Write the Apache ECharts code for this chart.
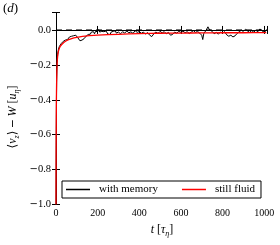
<!DOCTYPE html>
<html><head><meta charset="utf-8">
<script src="https://cdn.jsdelivr.net/npm/echarts@6/dist/echarts.min.js"></script>
<style>html,body{margin:0;padding:0;background:#fff}#c{width:280px;height:245px}</style>
</head><body><div id="c"></div>
<script>
// ---- data ----
var xTicks = [0, 200, 400, 600, 800, 1000];
var yTicks = [-1.0, -0.8, -0.6, -0.4, -0.2, 0.0];
var seriesNames = ['with memory', 'still fluid'];
var withMemory = [
 [0,-1.0],[1,-0.66],[2,-0.43],[3,-0.30],[5,-0.19],[8,-0.14],[12,-0.11],[16,-0.095],[20,-0.085],
 [25,-0.078],[30,-0.072],[35,-0.065],[40,-0.068],[45,-0.058],[50,-0.052],[55,-0.055],[60,-0.045],
 [65,-0.040],[70,-0.048],[75,-0.036],[80,-0.042],[85,-0.033],[90,-0.038],[95,-0.030],[100,-0.035],
 [105,-0.045],[110,-0.055],[115,-0.062],[120,-0.068],[125,-0.058],[130,-0.060],[135,-0.050],
 [140,-0.045],[145,-0.035],[150,-0.030],[155,-0.026],[160,-0.020],[165,-0.024],[170,-0.012],
 [175,-0.018],[180,-0.010],[185,-0.022],[190,-0.008],[195,-0.004],[200,-0.010],[205,0.002],
 [210,-0.012],[215,-0.020],[220,-0.008],[225,-0.016],[230,-0.010],[235,-0.019],[240,-0.006],
 [245,-0.014],[250,-0.024],[255,-0.017],[260,-0.026],[265,-0.012],[270,-0.020],[275,-0.008],
 [280,-0.016],[285,-0.005],[290,-0.018],[300,-0.012],[310,-0.022],[320,-0.010],[330,-0.018],
 [340,-0.006],[350,-0.016],[360,-0.011],[370,-0.020],[380,-0.004],[390,-0.014],[400,-0.009],
 [410,-0.019],[420,-0.012],[430,-0.024],[440,-0.015],[450,-0.030],[460,-0.038],[470,-0.022],
 [480,-0.012],[490,-0.020],[500,-0.008],[510,-0.017],[520,-0.010],[530,-0.022],[540,-0.014],
 [550,-0.030],[560,-0.026],[570,-0.012],[580,-0.018],[590,-0.008],[600,-0.014],[610,-0.006],
 [620,-0.016],[630,-0.010],[640,-0.020],[650,-0.012],[660,-0.004],[670,-0.014],[680,-0.008],
 [690,-0.018],[700,-0.030],[705,-0.055],[710,-0.020],[720,-0.004],[730,0.018],[735,0.005],
 [740,0.015],[750,-0.008],[760,-0.022],[770,-0.014],[780,-0.024],[790,-0.012],[800,-0.018],
 [810,-0.010],[820,-0.028],[830,-0.036],[840,-0.030],[850,-0.040],[860,-0.034],[870,-0.020],
 [880,-0.010],[890,-0.002],[900,-0.008],[910,0.004],[920,-0.006],[930,-0.014],[940,-0.004],
 [950,-0.012],[960,-0.002],[970,-0.010],[980,0.006],[990,-0.006],[1000,-0.012],[1010,-0.004]
];
var stillFluid = [
 [0,-1.0],[1,-0.6],[2,-0.4],[3,-0.3],[5,-0.2],[8,-0.15],[12,-0.12],[20,-0.095],[30,-0.08],
 [50,-0.062],[75,-0.05],[100,-0.043],[150,-0.034],[200,-0.03],[300,-0.025],[400,-0.021],
 [500,-0.019],[600,-0.018],[700,-0.017],[800,-0.016],[900,-0.016],[1010,-0.015]
];
var zeroLine = [[0,0],[1016,0]];
var xRange = [0, 1016];
var yRange = [-1.0, 0.1];

// ---- chart ----
var FONT = '"Liberation Serif", "DejaVu Serif", serif';
var chart = echarts.init(document.getElementById('c'), null, {renderer: 'canvas'});
function fmtY(v){
  var s = Math.abs(v).toFixed(1);
  return (v < -1e-9) ? '{m|\u2212}' + s : s;
}
var axLine = {show: true, lineStyle: {color: '#000', width: 1}};
var tick = {show: true, inside: true, length: 4, lineStyle: {color: '#000', width: 1}};
var grid = {left: 56, right: 12.5, top: 12.5, bottom: 40.5, containLabel: false};
var opt = {
  animation: false,
  backgroundColor: '#fff',
  grid: grid,
  xAxis: [
    {type: 'value', min: xRange[0], max: xRange[1], interval: 200, position: 'bottom',
     axisLine: axLine, axisTick: tick, splitLine: {show: false},
     axisLabel: {show: true, margin: 4, color: '#000', fontFamily: FONT, fontSize: 10,
       formatter: function(v){ return xTicks.indexOf(v) >= 0 ? String(v) : ''; }}},
    {type: 'value', min: xRange[0], max: xRange[1], interval: 200, position: 'top',
     axisLine: axLine, axisTick: tick, splitLine: {show: false}, axisLabel: {show: false}}
  ],
  yAxis: [
    {type: 'value', min: yRange[0], max: yRange[1], interval: 0.2, position: 'left',
     axisLine: axLine, axisTick: tick, splitLine: {show: false},
     axisLabel: {show: true, margin: 5, color: '#000', fontFamily: FONT, fontSize: 10.5,
       rich: {m: {fontFamily: '"DejaVu Sans"', fontSize: 10, color: '#000'}},
       formatter: function(v){ for (var i=0;i<yTicks.length;i++){ if (Math.abs(yTicks[i]-v)<1e-6) return fmtY(yTicks[i]); } return ''; }}},
    {type: 'value', min: yRange[0], max: yRange[1], interval: 0.2, position: 'right',
     axisLine: axLine, axisTick: tick, splitLine: {show: false}, axisLabel: {show: false}}
  ],
  legend: {
    left: 62, top: 181, orient: 'horizontal',
    data: seriesNames,
    icon: 'rect', itemWidth: 24, itemHeight: 1.5, itemGap: 24,
    padding: [3, 6, 3, 4],
    borderColor: '#000', borderWidth: 1, borderRadius: 0, backgroundColor: '#fff',
    textStyle: {fontFamily: FONT, fontSize: 11, color: '#000', padding: [0, 0, 0, 4]},
    selectedMode: false
  },
  series: [
    {type: 'line', name: 'zero', data: zeroLine, symbol: 'none', silent: true, z: 1,
     lineStyle: {color: '#000', width: 1, type: [6, 4]}},
    {type: 'line', name: seriesNames[0], data: withMemory, symbol: 'none', z: 2,
     itemStyle: {color: '#000'}, lineStyle: {color: '#000', width: 1}},
    {type: 'line', name: seriesNames[1], data: stillFluid, symbol: 'none', z: 3, smooth: 0.3,
     itemStyle: {color: '#ff0000'}, lineStyle: {color: '#ff0000', width: 1.3}}
  ],
  graphic: [
    {type: 'text', left: 3, top: 2, style: {
      text: '({i|d})', font: '13px ' + FONT, fill: '#000',
      rich: {i: {fontStyle: 'italic', fontSize: 13, fontFamily: FONT}}}},
    {type: 'text', x: 13, y: 117, rotation: Math.PI / 2, style: {
      text: '\u27E8{i|v}{s|z}\u27E9\u2009{m|\u2212}\u2009{i|W} [{i|u}{s|\u03B7}]',
      fontSize: 12, fontFamily: FONT, fill: '#000', align: 'center', verticalAlign: 'middle',
      rich: {
        i: {fontStyle: 'italic', fontSize: 12, fontFamily: FONT, lineHeight: 15},
        m: {fontSize: 11, fontFamily: '"DejaVu Sans"', lineHeight: 15},
        s: {fontStyle: 'italic', fontSize: 8, fontFamily: FONT, lineHeight: 8, verticalAlign: 'bottom'}
      }}},
    {type: 'text', x: 162, y: 230, style: {
      text: '{i|t} [{i|\u03C4}{s|\u03B7}]',
      fontSize: 12, fontFamily: FONT, fill: '#000', align: 'center', verticalAlign: 'middle',
      rich: {
        i: {fontStyle: 'italic', fontSize: 12, fontFamily: FONT, lineHeight: 15},
        s: {fontStyle: 'italic', fontSize: 8, fontFamily: FONT, lineHeight: 8, verticalAlign: 'bottom'}
      }}}
  ]
};
chart.setOption(opt);
</script></body></html>
